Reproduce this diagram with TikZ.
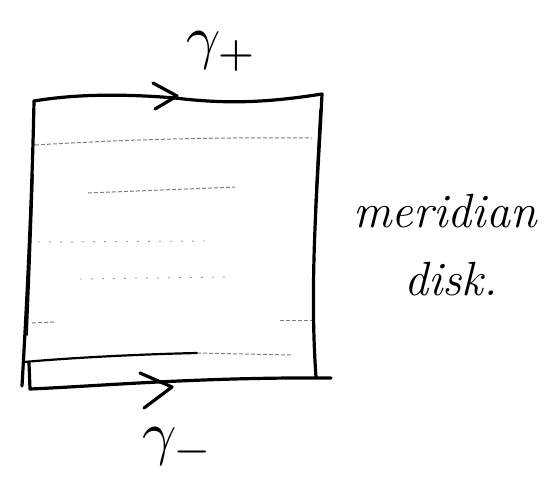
\documentclass[tikz,border=0pt]{standalone}
\begin{document}
\begin{tikzpicture}[x=1pt,y=-1pt,
  pen/.style={line width=3.2pt, line cap=round, line join=round},
  thinpen/.style={line width=1.6pt, line cap=round},
  faint/.style={line width=1pt, black!50, dash pattern=on 4pt off 2pt},
  sparse/.style={line width=0.9pt, black!40, dash pattern=on 2pt off 9pt},
  lbl/.style={inner sep=0pt}]
\useasboundingbox (0,0) rectangle (553,483);
% corners
\coordinate (tl) at (34,101);
\coordinate (tr) at (322,94);
\coordinate (br) at (316,377);
\coordinate (bl) at (22,386);
% top edge gamma_+
\draw[pen] (tl) .. controls (70,95) and (115,93) .. (175,98) .. controls (225,104) and (265,103) .. (tr);
\draw[pen] (153,83) -- (177,96) -- (155,109);
% left edge (drawn twice)
\draw[pen] (tl) .. controls (32,200) and (27,300) .. (bl);
\draw[thinpen] (33,175) .. controls (31,240) and (29,290) .. (27,335);
% right edge (drawn twice)
\draw[pen] (tr) .. controls (318,180) and (309,280) .. (br);
\draw[thinpen] (320,110) .. controls (318,150) and (316,180) .. (315,215);
% bottom edge gamma_-
\draw[pen] (29,363) -- (30,389) .. controls (100,386) and (200,377) .. (331,378);
\draw[pen] (140,373) -- (172,387) -- (144,408);
% inner bottom line
\draw[pen, line width=2.2pt] (24,362) .. controls (80,357) and (150,354) .. (197,353);
\draw[faint] (197,353) -- (293,355);
% faint pencil lines
\draw[faint] (35,145) .. controls (120,140) and (200,137) .. (312,138);
\draw[faint] (88,193) -- (235,187);
\draw[sparse] (38,242) -- (205,241);
\draw[sparse] (80,279) -- (227,277);
\draw[faint] (32,323) -- (55,322);
\draw[faint] (280,320) -- (312,320);
% labels
\node[lbl, scale=6] (gp) at (222,52) {$\gamma_+$};
\node[lbl, scale=6] (gm) at (178,448) {$\gamma_-$};
\node[lbl] (md) at (445,211) {\fontsize{48}{48}\selectfont\itshape meridian};
\node[lbl] (dk) at (451,279) {\fontsize{48}{48}\selectfont\itshape disk.};
\end{tikzpicture}
\end{document}
